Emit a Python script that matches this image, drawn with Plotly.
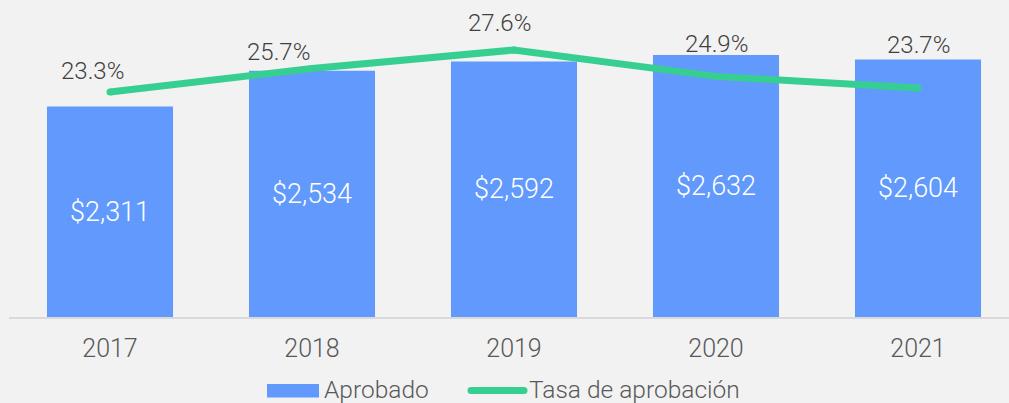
import plotly.graph_objects as go

# Data
years = ["2017", "2018", "2019", "2020", "2021"]
aprobado = [2311, 2534, 2592, 2632, 2604]
tasa = [0.233, 0.257, 0.276, 0.249, 0.237]

# Label offsets (px) for the rate labels, relative to each point
label_dx = [-18, -34, -15, 0, 0]
label_dy = [21, 17, 27, 32, 43]

BAR_COLOR = "#6199FD"
LINE_COLOR = "#37CF91"
BG = "#F2F2F2"
FONT = "Roboto"

W, H = 1009, 403
ML, MR, MT, MB = 9, 0, 0, 86
PLOT_W = W - ML - MR
PLOT_H = H - MT - MB
Y_MIN, Y_MAX = 1000, 2975

fig = go.Figure()

fig.add_trace(go.Bar(
    x=years, y=aprobado, name="Aprobado",
    marker=dict(color=BAR_COLOR, line=dict(width=0)),
    width=0.624,
    showlegend=False,
))

# Line with round dots at each vertex so ends and joins look rounded
fig.add_trace(go.Scatter(
    x=years, y=tasa, name="Tasa de aprobación", yaxis="y2",
    mode="lines+markers", line=dict(color=LINE_COLOR, width=7),
    marker=dict(color=LINE_COLOR, size=7, line=dict(width=0)),
    showlegend=False,
))

# Value labels centred in the visible part of each bar
for i, v in enumerate(aprobado):
    fig.add_annotation(
        x=i, y=(Y_MIN + v) / 2, text=f"${v:,}", showarrow=False,
        font=dict(family=FONT, size=27, color="white", weight=300),
    )

# Rate labels above the line
for i, (v, dx, dy) in enumerate(zip(tasa, label_dx, label_dy)):
    fig.add_annotation(
        x=i, y=v, yref="y2", text=f"{v*100:.1f}%", showarrow=False,
        xshift=dx, yshift=dy,
        font=dict(family=FONT, size=24, color="#404040", weight=300),
    )

# Custom legend below the axis
def px_x(px):
    return (px - ML) / PLOT_W

def px_y(py):
    return (MT + PLOT_H - py) / PLOT_H

fig.add_shape(type="rect", xref="paper", yref="paper",
              x0=px_x(267), x1=px_x(319), y0=px_y(397.5), y1=px_y(384),
              fillcolor=BAR_COLOR, line=dict(width=0))
fig.add_shape(type="line", xref="paper", yref="paper",
              x0=px_x(471), x1=px_x(524), y0=px_y(390.5), y1=px_y(390.5),
              line=dict(color=LINE_COLOR, width=7))
for cx in (471, 524):
    fig.add_shape(type="circle", xref="paper", yref="paper",
                  x0=px_x(cx - 3.5), x1=px_x(cx + 3.5),
                  y0=px_y(390.5 + 3.5), y1=px_y(390.5 - 3.5),
                  fillcolor=LINE_COLOR, line=dict(width=0))
fig.add_annotation(xref="paper", yref="paper", x=px_x(322), y=px_y(390),
                   text="Aprobado", showarrow=False, xanchor="left",
                   yanchor="middle",
                   font=dict(family=FONT, size=24.5, color="#595959", weight=300))
fig.add_annotation(xref="paper", yref="paper", x=px_x(527), y=px_y(390),
                   text="Tasa de aprobación", showarrow=False, xanchor="left",
                   yanchor="middle",
                   font=dict(family=FONT, size=24.5, color="#595959", weight=300))

fig.update_layout(
    width=W, height=H,
    margin=dict(l=ML, r=MR, t=MT, b=MB),
    paper_bgcolor=BG, plot_bgcolor=BG,
    xaxis=dict(
        type="category",
        range=[-0.5, -0.5 + PLOT_W / 202], showgrid=False,
        showline=True, linecolor="#D9D9D9", linewidth=1.5,
        ticks="", ticklabelstandoff=8,
        tickfont=dict(family=FONT, size=25, color="#595959", weight=300),
    ),
    yaxis=dict(range=[Y_MIN, Y_MAX], visible=False, showgrid=False),
    yaxis2=dict(range=[0.0026, 0.3272], overlaying="y", visible=False,
                showgrid=False),
)

fig.write_html("out.html")
